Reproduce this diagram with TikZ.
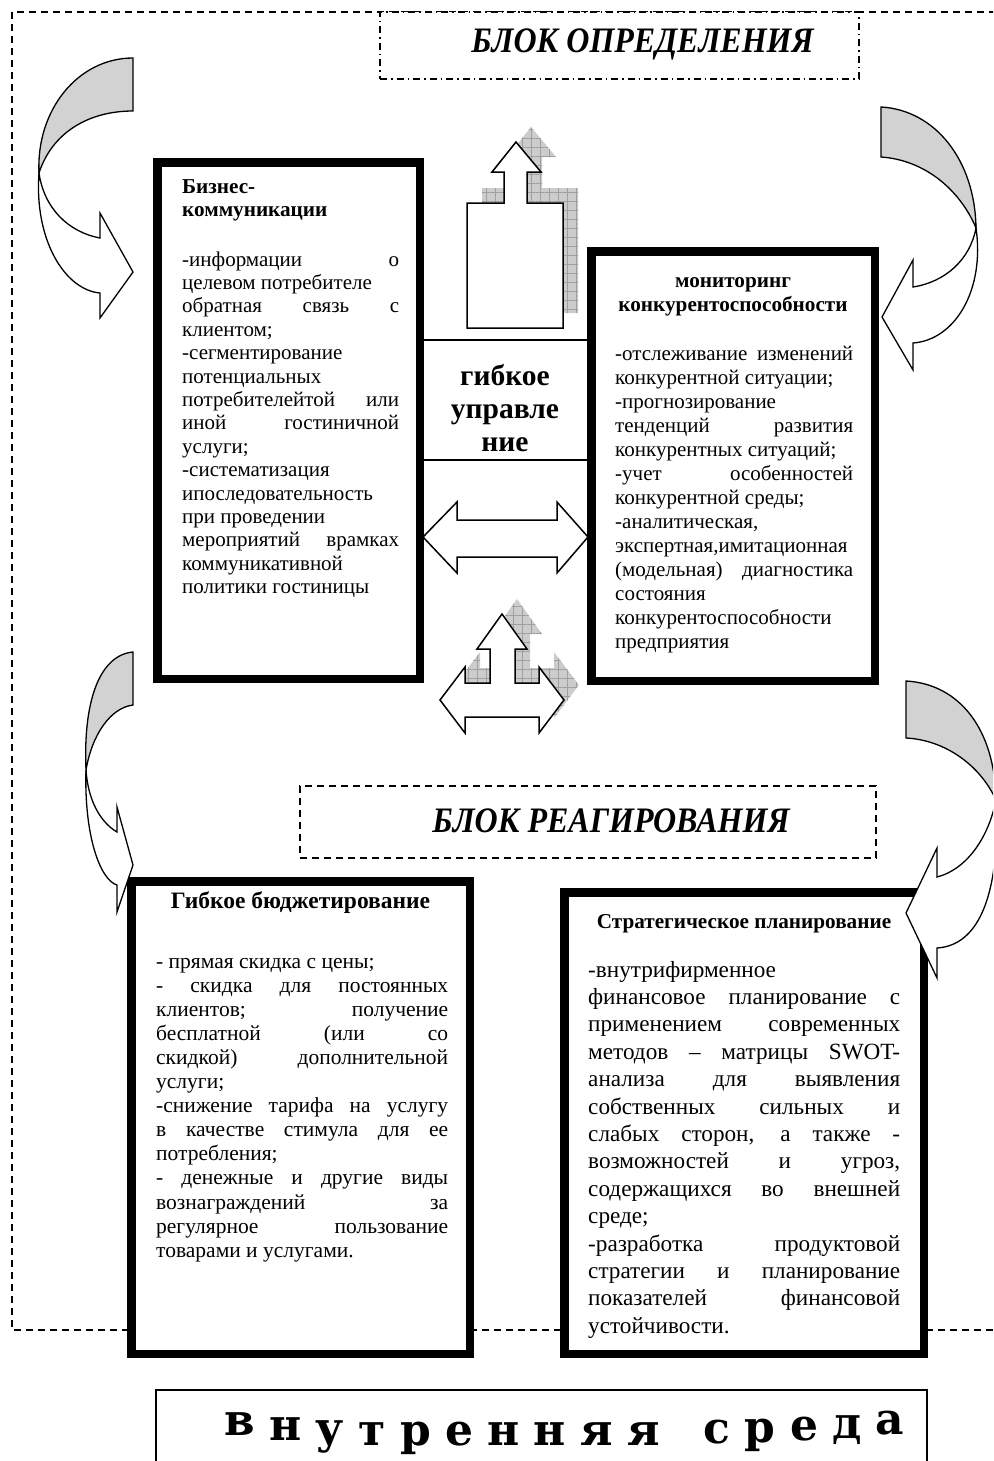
\documentclass[tikz,border=0pt]{standalone}
\usepackage{fontspec}
\setmainfont{Liberation Serif}
\newfontfamily\artfont{DejaVu Serif}
\usetikzlibrary{positioning,patterns.meta}
\hyphenpenalty=10000
\exhyphenpenalty=10000
\tolerance=10000
\hbadness=10000

\tikzset{
  frameline/.style={line width=1.3pt, dash pattern=on 7pt off 5pt},
  dashdotline/.style={line width=1.3pt, dash pattern=on 7pt off 4pt on 1.5pt off 4pt},
  thickbox/.style={draw, line width=8.5pt, fill=white, inner sep=0pt},
  thinline/.style={line width=1.5pt},
  bodytop/.style={inner sep=0pt, anchor=base west, align=justify, font=\fontsize{21pt}{23.4pt}\selectfont},
  bodybudget/.style={inner sep=0pt, anchor=base west, align=justify, font=\fontsize{21.5pt}{24.1pt}\selectfont},
  bodyplan/.style={inner sep=0pt, anchor=base west, align=justify, font=\fontsize{23.2pt}{27.4pt}\selectfont},
  boxtitle/.style={inner sep=0pt, font=\bfseries\fontsize{21.2pt}{24pt}\selectfont},
  blocktitle/.style={inner sep=0pt, anchor=base, font=\bfseries\itshape\fontsize{32pt}{36pt}\selectfont},
  arrowfill/.style={fill=white, draw=black, line width=1.5pt, line join=miter},
  shadowfill/.style={fill=gray!40, postaction={pattern={Hatch[angle=0,distance=9pt,line width=0.5pt]}, pattern color=gray!75}},
  curveback/.style={fill=gray!35, draw=black, line width=1.3pt},
  curvefront/.style={fill=white, draw=black, line width=1.3pt, line join=miter}
}

\begin{document}
\begin{tikzpicture}[x=1pt,y=-1pt]
\useasboundingbox (0,0) rectangle (993,1461);
\clip (0,0) rectangle (993,1461);

% outer frame
\draw[frameline] (12,12) rectangle (1010,1330);

% blocks
\node[draw, dashdotline, fill=white, minimum width=479pt, minimum height=67pt, inner sep=0pt] (blockdef) at (619.5,45.5) {};
\node[blocktitle] (deftitle) at ([shift={(23,7.5)}]blockdef.center) {\scalebox{1}[1.12]{БЛОК ОПРЕДЕЛЕНИЯ}};
\node[draw, frameline, fill=white, minimum width=576pt, minimum height=72pt, inner sep=0pt] (blockreact) at (588,822) {};
\node[blocktitle] (reacttitle) at ([shift={(23,10)}]blockreact.center) {\scalebox{1}[1.12]{БЛОК РЕАГИРОВАНИЯ}};

% main boxes
\node[thickbox, minimum width=262.5pt, minimum height=516.5pt] (biz) at (288.5,420.5) {};
\node[thickbox, minimum width=283.5pt, minimum height=429.5pt] (mon) at (733,466) {};
\node[thickbox, minimum width=338.5pt, minimum height=472.5pt] (budget) at (300.5,1117.5) {};
\node[thickbox, minimum width=359.5pt, minimum height=461.5pt] (plan) at (744,1123) {};

% texts of the boxes
\node[boxtitle, anchor=base west, text width=217pt] (biztitle) at ([shift={(29,35)}]biz.north west)
  {Бизнес-\newline коммуникации};
\node[bodytop, text width=217pt] (biztext) at ([shift={(29,108)}]biz.north west)
  {-информации о\linebreak целевом потребителе\newline обратная связь с\linebreak клиентом;\par
   -сегментирование\linebreak потенциальных\linebreak потребителейтой или\linebreak иной гостиничной\linebreak услуги;\par
   -систематизация\linebreak ипоследовательность\linebreak при проведении\newline мероприятий врамках\linebreak коммуникативной\linebreak политики гостиницы};

\node[boxtitle, anchor=base, text width=260pt, align=center] (montitle) at ([shift={(0,40)}]mon.north)
  {мониторинг\\конкурентоспособности};
\node[bodytop, text width=238pt, font=\fontsize{21pt}{24pt}\selectfont] (montext) at ([shift={(28,113)}]mon.north west)
  {-отслеживание изменений\linebreak конкурентной ситуации;\par
   -прогнозирование\linebreak тенденций развития\linebreak конкурентных ситуаций;\par
   -учет особенностей\linebreak конкурентной среды;\par
   -аналитическая,\linebreak экспертная,имитационная\linebreak (модельная) диагностика\linebreak состояния\linebreak конкурентоспособности\linebreak предприятия};

\node[boxtitle, anchor=base, font=\bfseries\fontsize{23.5pt}{26pt}\selectfont] (budgettitle) at ([shift={(0,31)}]budget.north) {Гибкое бюджетирование};
\node[bodybudget, text width=292pt] (budgettext) at ([shift={(29,91)}]budget.north west)
  {- прямая скидка с цены;\par
   - скидка для постоянных\linebreak клиентов; получение\linebreak бесплатной (или со\linebreak скидкой) дополнительной\linebreak услуги;\par
   -снижение тарифа на услугу\linebreak в качестве стимула для ее\linebreak потребления;\par
   - денежные и другие виды\linebreak вознаграждений за\linebreak регулярное пользование\linebreak товарами и услугами.};

\node[boxtitle, anchor=base] (plantitle) at ([shift={(0,40)}]plan.north) {Стратегическое планирование};
\node[bodyplan, text width=312pt] (plantext) at ([shift={(28,89)}]plan.north west)
  {-внутрифирменное\linebreak финансовое планирование с\linebreak применением современных\linebreak методов – матрицы SWOT-\linebreak анализа для выявления\linebreak собственных сильных и\linebreak слабых сторон, а также -\linebreak возможностей и угроз,\linebreak содержащихся во внешней\linebreak среде;\par
   -разработка продуктовой\linebreak стратегии и планирование\linebreak показателей финансовой\linebreak устойчивости.};

% flexible management in the middle
\coordinate (flextop) at (505,340);
\coordinate (flexbot) at (505,460);
\draw[thinline] (flextop -| biz.east) -- (flextop -| mon.west);
\draw[thinline] (flexbot -| biz.east) -- (flexbot -| mon.west);
\node[inner sep=0pt, anchor=base, text width=160pt, align=center, font=\bfseries\fontsize{29.5pt}{33pt}\selectfont] (flex) at (505,385)
  {гибкое\\управле\\ние};

% block arrows
\foreach \d/\st in {15/shadowfill,0/arrowfill}
  \path[\st, shift={(\d,-\d)}] (467,328) -- (467,203) -- (504,203) -- (504,172) -- (492,172) -- (516,142)
    -- (541,172) -- (527,172) -- (527,203) -- (563,203) -- (563,328) -- cycle;
\path[arrowfill] (423,537) -- (457,502) -- (457,520) -- (557,520) -- (557,502) -- (588,537)
  -- (557,573) -- (557,557) -- (457,557) -- (457,573) -- cycle;
\foreach \d/\st in {15/shadowfill,0/arrowfill}
  \path[\st, shift={(\d,-\d)}] (502,614) -- (527,649) -- (515,649) -- (515,683) -- (539,683) -- (539,667)
    -- (564,700) -- (539,733) -- (539,717) -- (465,717) -- (465,733) -- (440,700) -- (465,667)
    -- (465,683) -- (490,683) -- (490,649) -- (477,649) -- cycle;

% curved arrows
\path[curveback] (133,58) .. controls (78,58) and (36,110) .. (39,173) .. controls (52,133) and (88,111) .. (133,111) -- cycle;
\path[curvefront] (39,173) .. controls (34,240) and (65,290) .. (100,293) -- (100,318) -- (133,272) -- (100,213)
  -- (100,238) .. controls (68,232) and (44,208) .. (39,173) -- cycle;

\path[curveback] (881,107) .. controls (935,110) and (975,160) .. (976,228) .. controls (960,190) and (925,160) .. (881,157) -- cycle;
\path[curvefront] (976,228) .. controls (985,290) and (955,340) .. (913,343) -- (913,370) -- (882,317) -- (913,260)
  -- (913,287) .. controls (945,282) and (970,260) .. (976,228) -- cycle;

\path[curveback] (133,652) .. controls (100,655) and (83,700) .. (86,770) .. controls (92,735) and (110,708) .. (133,705) -- cycle;
\path[curvefront] (86,770) .. controls (84,835) and (100,880) .. (117,885) -- (117,912) -- (133,865) -- (117,807)
  -- (117,832) .. controls (100,822) and (88,800) .. (86,770) -- cycle;

\path[curveback] (906,681) .. controls (960,684) and (995,730) .. (996,800) .. controls (980,765) and (945,740) .. (906,738) -- cycle;
\path[curvefront] (996,800) .. controls (1000,880) and (985,945) .. (937,948) -- (937,978) -- (906,913) -- (937,848)
  -- (937,877) .. controls (965,870) and (988,840) .. (996,800) -- cycle;

% inner environment
\node[draw, thinline, minimum width=771pt, minimum height=102pt, inner sep=0pt] (inner) at (541.5,1441) {};
\node[inner sep=0pt, anchor=base, font=\artfont\bfseries\fontsize{44pt}{46pt}\selectfont] (innertxt) at ([shift={(23,56)}]inner.north)
  {\makebox[680pt]{\raisebox{10pt}{в}\hfill\raisebox{5pt}{н}\hfill\raisebox{2pt}{у}\hfill т\hfill р\hfill е\hfill н\hfill н\hfill я\hfill я\hfill\ \hfill\raisebox{2pt}{с}\hfill\raisebox{3pt}{р}\hfill\raisebox{5pt}{е}\hfill\raisebox{7pt}{д}\hfill\raisebox{11pt}{а}}};
\end{tikzpicture}
\end{document}
